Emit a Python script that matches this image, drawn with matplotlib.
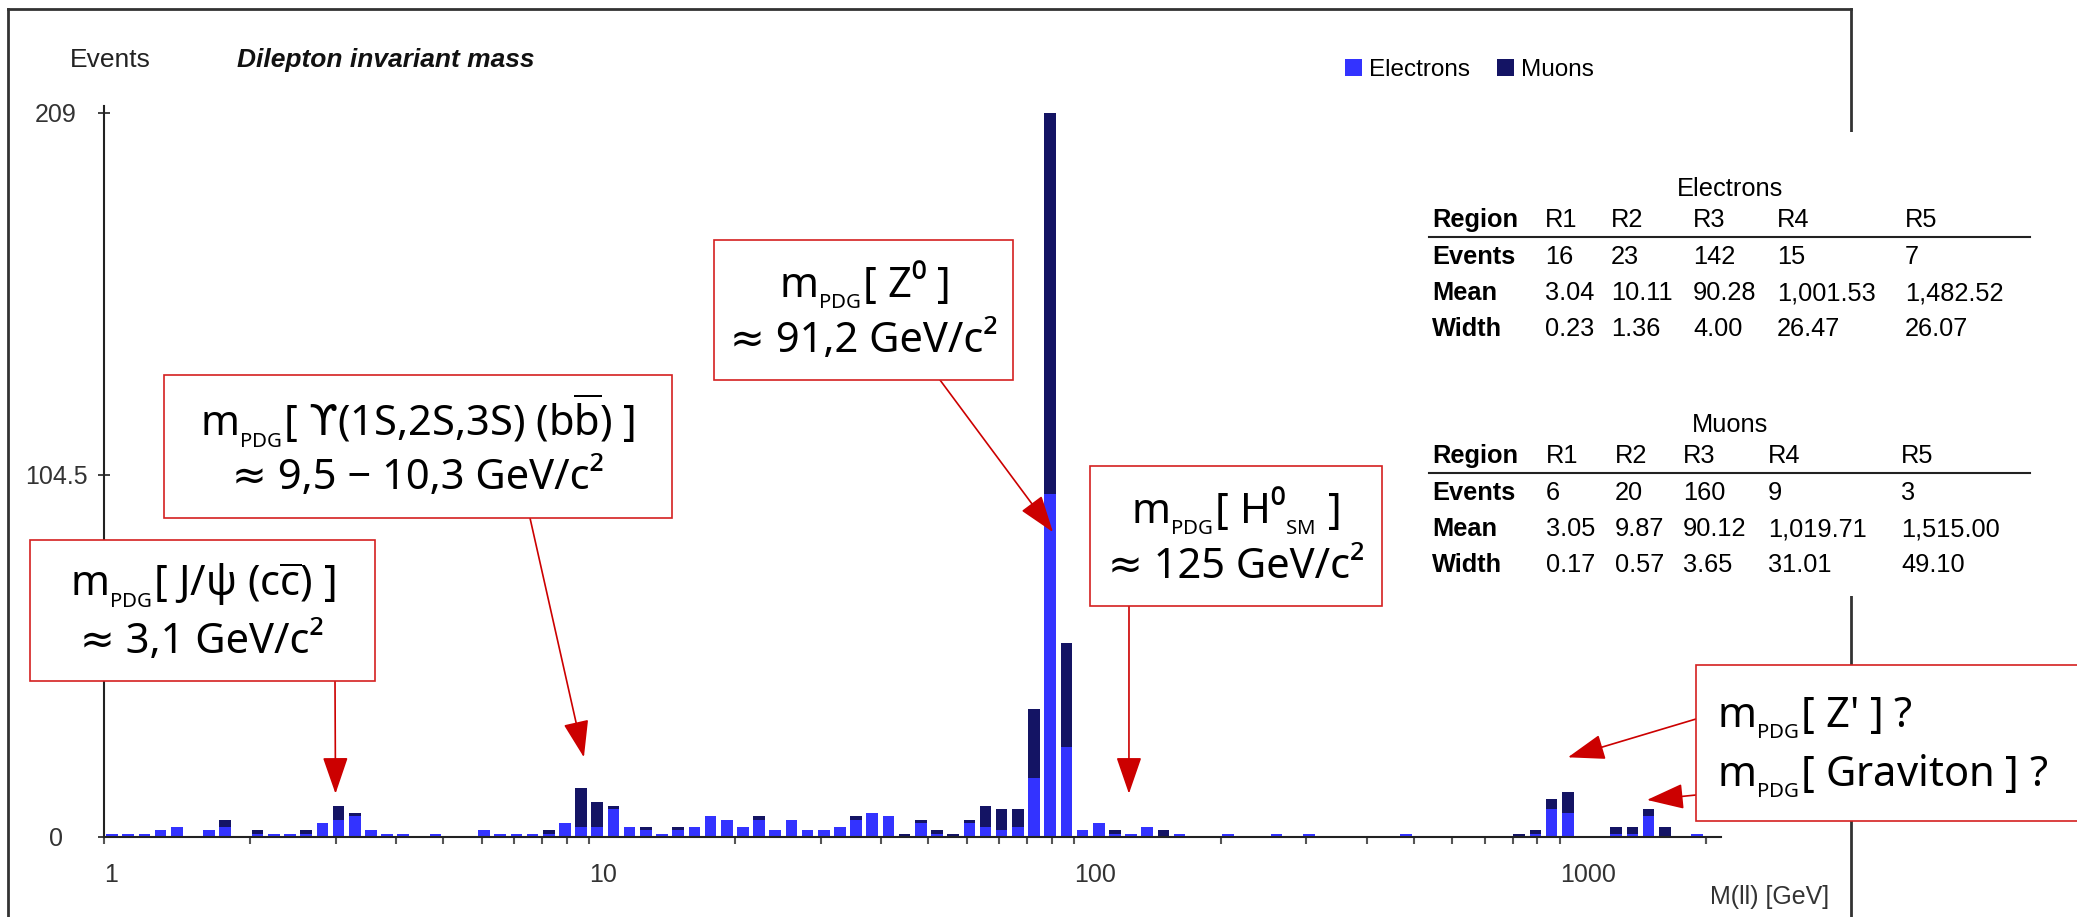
import numpy as np
import matplotlib
matplotlib.use("Agg")
import matplotlib.pyplot as plt
from matplotlib.patches import Rectangle
from matplotlib.lines import Line2D

# -------------------------------
# Data
# -------------------------------
bins_per_decade = 30          # log bins, starting at 1 GeV
electrons = [1, 1, 1, 2, 3, 0, 2, 3, 0, 1,
             1, 1, 1, 4, 5, 6, 2, 1, 1, 0,
             1, 0, 0, 2, 1, 1, 1, 1, 4, 3,
             3, 8, 3, 2, 1, 2, 3, 6, 5, 3,
             5, 2, 5, 2, 2, 3, 5, 7, 6, 0,
             4, 1, 0, 4, 3, 2, 3, 17, 99, 26,
             2, 4, 1, 1, 3, 0, 1, 0, 0, 1,
             0, 0, 1, 0, 1, 0, 0, 0, 0, 0,
             1, 0, 0, 0, 0, 0, 0, 0, 1, 8,
             7, 0, 0, 1, 1, 6, 0, 0, 1]
muons = [0, 0, 0, 0, 0, 0, 0, 2, 0, 1,
         0, 0, 1, 0, 4, 1, 0, 0, 0, 0,
         0, 0, 0, 0, 0, 0, 0, 1, 0, 11,
         7, 1, 0, 1, 0, 1, 0, 0, 0, 0,
         1, 0, 0, 0, 0, 0, 1, 0, 0, 1,
         1, 1, 1, 1, 6, 6, 5, 20, 110, 30,
         0, 0, 1, 0, 0, 2, 0, 0, 0, 0,
         0, 0, 0, 0, 0, 0, 0, 0, 0, 0,
         0, 0, 0, 0, 0, 0, 0, 1, 1, 3,
         6, 0, 0, 2, 2, 2, 3, 0, 0]

y_ticks = [0, 104.5, 209]
x_labels = {1: "1", 10: "10", 100: "100", 1000: "1000"}

regions = ["R1", "R2", "R3", "R4", "R5"]
el_events = [16, 23, 142, 15, 7]
el_mean = [3.04, 10.11, 90.28, 1001.53, 1482.52]
el_width = [0.23, 1.36, 4.00, 26.47, 26.07]
mu_events = [6, 20, 160, 9, 3]
mu_mean = [3.05, 9.87, 90.12, 1019.71, 1515.00]
mu_width = [0.17, 0.57, 3.65, 31.01, 49.10]

# annotation texts and the (mass, events) they point at
PDG = r"m$_{_{\mathrm{PDG}}}$"
ann_lines = [
    (PDG + r"[ J/ψ (c$\overline{\mathrm{c}}$) ]", "≈ 3,1 GeV/c²"),
    (PDG + r"[ $\mathsf{ϒ}$(1S,2S,3S) (b$\overline{\mathrm{b}}$) ]", "≈ 9,5 − 10,3 GeV/c²"),
    (PDG + "[ Z⁰ ]", "≈ 91,2 GeV/c²"),
    (PDG + r"[ H⁰$_{_{\mathrm{SM}}}$ ]", "≈ 125 GeV/c²"),
]
ann_targets = [(3.0, 12.5), (9.75, 23), (90.3, 88), (129.5, 12.5)]
exotic_lines = [PDG + "[ Z' ] ?", PDG + "[ Graviton ] ?"]
exotic_targets = [(1040, 23), (1513, 10.7)]

E_COL = "#3333ff"
M_COL = "#141464"
RED = "#cc0000"

plt.rcParams["font.family"] = ["Liberation Sans", "DejaVu Sans"]
plt.rcParams["mathtext.fontset"] = "custom"
plt.rcParams["mathtext.rm"] = "Noto Sans"
plt.rcParams["mathtext.it"] = "Noto Sans:italic"
plt.rcParams["mathtext.bf"] = "Noto Sans:bold"
plt.rcParams["mathtext.sf"] = "DejaVu Sans"

W, H = 2077, 917
fig = plt.figure(figsize=(W / 100, H / 100), dpi=100)

def fxy(px, py):
    # picture pixel (top-left origin) -> figure fraction
    return px / W, 1 - py / H

ax = fig.add_axes([104 / W, 80 / H, (1721 - 104) / W, 731 / H])

# -------------------------------
# stacked histogram
# -------------------------------
idx = np.arange(len(electrons))
left = 10 ** ((idx + 0.14) / bins_per_decade)
right = 10 ** ((idx + 0.86) / bins_per_decade)
e = np.array(electrons)
m = np.array(muons)
b1 = ax.bar(left, e, right - left, align="edge", color=E_COL, zorder=2)
b2 = ax.bar(left, m, right - left, bottom=e, align="edge", color=M_COL, zorder=2)

ax.set_xscale("log")
ax.set_xlim(1, 2150)
ax.set_ylim(0, 211)

xt = [k * 10 ** d for d in range(4) for k in range(1, 10) if k * 10 ** d <= 2000]
xt.append(2000)
ax.set_xticks(xt)
ax.set_xticklabels([x_labels.get(v, "") for v in xt])
ax.xaxis.set_minor_locator(matplotlib.ticker.NullLocator())
for lab in ax.get_xticklabels():
    lab.set_horizontalalignment("left")
ax.tick_params(axis="x", direction="out", length=5, width=1.5, color="#555555",
               labelsize=18, labelcolor="#333333", pad=14)

ax.set_yticks(y_ticks)
ax.set_yticklabels(["0", "104.5", "209"])
for lab in ax.get_yticklabels():
    lab.set_horizontalalignment("center")
ax.tick_params(axis="y", direction="inout", length=9, width=1.3, color="#333333",
               labelsize=18, labelcolor="#333333", pad=30)

for s in ["top", "right"]:
    ax.spines[s].set_visible(False)
for s in ["left", "bottom"]:
    ax.spines[s].set_linewidth(1.5)
    ax.spines[s].set_color("#222222")

# -------------------------------
# header texts & legend
# -------------------------------
fig.text(*fxy(110, 60), "Events", fontsize=19, ha="center", va="center", color="#222222")
fig.text(*fxy(237, 60), "Dilepton invariant mass", fontsize=19, ha="left", va="center",
         fontweight="bold", fontstyle="italic", color="#111111")
fig.text(*fxy(1710, 897), "M(ll) [GeV]", fontsize=18, ha="left", va="center", color="#333333")
fig.legend([b1, b2], ["Electrons", "Muons"], loc="center left",
           bbox_to_anchor=fxy(1345, 70), ncol=2, frameon=False, fontsize=17.5,
           handlelength=0.7, handleheight=0.7, handletextpad=0.3,
           columnspacing=1.1, borderpad=0, borderaxespad=0)

# outer frame of the screenshot
for (xa, ya), (xb, yb) in [((8, 9), (1851, 9)), ((8, 9), (8, 917)), ((1851, 9), (1851, 917))]:
    fig.add_artist(Line2D([xa / W, xb / W], [1 - ya / H, 1 - yb / H], color="#333333",
                          lw=2, transform=fig.transFigure, zorder=1))
fig.add_artist(Rectangle(fxy(1415, 596), (2077 - 1415) / W, (596 - 132) / H,
                         transform=fig.transFigure, facecolor="white", edgecolor="none", zorder=3))

# -------------------------------
# tables
# -------------------------------
def draw_table(title, y0, cols, events, mean, width):
    fig.text(*fxy(1730, y0 + 3), title, fontsize=18.3, ha="center", va="center", zorder=4)
    yh = y0 + 34
    fig.text(*fxy(cols[0], yh), "Region", fontsize=18.3, fontweight="bold", ha="left", va="center", zorder=4)
    for x, r in zip(cols[1:], regions):
        fig.text(*fxy(x, yh), r, fontsize=18.3, ha="left", va="center", zorder=4)
    fig.add_artist(Line2D([1429 / W, 2030 / W], [1 - (y0 + 51) / H] * 2, color="#222222",
                          lw=1.5, transform=fig.transFigure, zorder=4))
    rows = [("Events", [f"{v}" for v in events]),
            ("Mean", [f"{v:,.2f}" for v in mean]),
            ("Width", [f"{v:,.2f}" for v in width])]
    for k, (name, vals) in enumerate(rows):
        yr = y0 + 71 + 36 * k
        fig.text(*fxy(cols[0], yr), name, fontsize=18.3, fontweight="bold", ha="left", va="center", zorder=4)
        for x, v in zip(cols[1:], vals):
            fig.text(*fxy(x, yr), v, fontsize=18.3, ha="left", va="center", zorder=4)

draw_table("Electrons", 186, [1432, 1545, 1611, 1693, 1777, 1905], el_events, el_mean, el_width)
draw_table("Muons", 422, [1432, 1546, 1615, 1683, 1768, 1901], mu_events, mu_mean, mu_width)

# -------------------------------
# annotation boxes with arrows
# -------------------------------
ann_font = ["Noto Sans", "DejaVu Sans"]
boxes = [(30, 540, 375, 681), (164, 375, 672, 518), (714, 240, 1013, 380), (1090, 466, 1382, 606)]
starts = [(335, 681), (530, 518), (940, 380), (1129, 606)]

def red_box(x0, y0, x1, y1):
    fig.add_artist(Rectangle(fxy(x0, y1), (x1 - x0) / W, (y1 - y0) / H, transform=fig.transFigure,
                             facecolor="white", edgecolor="#d42020", lw=1.2, zorder=5))

def red_arrow(start, target):
    ax.annotate("", xy=target, xycoords="data", xytext=fxy(*start), textcoords="figure fraction",
                arrowprops=dict(arrowstyle="-|>,head_length=0.58,head_width=0.2", mutation_scale=40,
                                color=RED, lw=1.2, shrinkA=0, shrinkB=0), zorder=6)

for (x0, y0, x1, y1), (l1, l2), st, tg in zip(boxes, ann_lines, starts, ann_targets):
    red_box(x0, y0, x1, y1)
    cx = (x0 + x1) / 2
    h = y1 - y0
    fig.text(*fxy(cx, y0 + 0.32 * h), l1, fontsize=30, family=ann_font, ha="center", va="center", zorder=7)
    fig.text(*fxy(cx, y0 + 0.72 * h), l2, fontsize=30, family=ann_font, ha="center", va="center", zorder=7)
    red_arrow(st, tg)

red_box(1696, 665, 2100, 821)
for k, (line, tg) in enumerate(zip(exotic_lines, exotic_targets)):
    yy = 718 + 58 * k
    fig.text(*fxy(1717, yy), line, fontsize=30, family=ann_font, ha="left", va="center", zorder=7)
    red_arrow((1696, 719 + 76 * k), tg)

fig.savefig("out.png", dpi=100, facecolor="white")
